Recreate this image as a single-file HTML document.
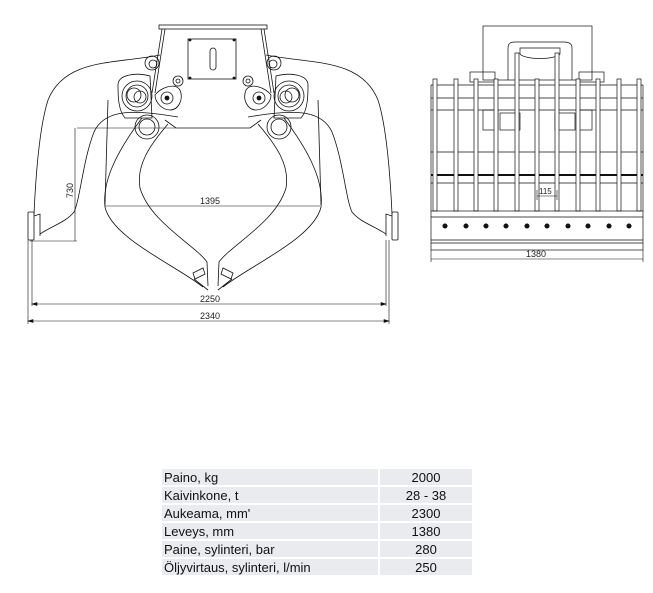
<!DOCTYPE html>
<html><head><meta charset="utf-8"><style>
html,body{margin:0;padding:0;background:#fff;}
body{width:653px;height:593px;position:relative;overflow:hidden;font-family:"Liberation Sans",sans-serif;}
svg{position:absolute;left:0;top:0;}
.tbl{position:absolute;left:162px;top:469px;width:310px;}
.row{display:flex;height:16px;margin-bottom:2px;font-size:13px;line-height:17px;color:#111;}
.row div{background:#e9ebef;}
.c1{width:214px;margin-right:2px;padding-left:2px;}
.c2{flex:1;text-align:center;}
</style></head><body>
<svg width="653" height="593" viewBox="0 0 653 593" fill="none" stroke="#111" stroke-width="0.8">
<g id="half">
  <path d="M160,55 C115,64 65,58 48,100 C40,125 36,170 34,214"/>
  <path d="M178,117 C135,110 105,108 94,132 C83,160 80,200 74,212 C66,222 52,226 40,234"/>
  <rect x="28" y="212" width="6" height="28" rx="1"/>
  <path d="M34,216 L40,214 L40,236"/>
  <path d="M142,118 C118,150 102,180 105,207 C112,238 175,265 203,287"/>
  <path d="M168,124 C150,145 136,165 140,188 C150,222 195,245 207,262 L208,286"/>
  <path d="M193,273 L203,268 L205,274 L195,279 Z M194,279 L208,290"/>
  <path d="M108,100 L105,205" />
  <circle cx="137" cy="96" r="15"/><circle cx="137" cy="96" r="11"/><circle cx="134" cy="95" r="7"/><circle cx="140" cy="97" r="6"/>
  <circle cx="147" cy="127" r="12"/><circle cx="147" cy="127" r="8"/>
  <circle cx="152" cy="63" r="7"/><circle cx="153" cy="64" r="4"/>
  <path d="M155,95 C160,88 175,82 180,90 C184,100 178,110 170,110 C162,110 155,102 155,95 Z"/>
  <circle cx="167" cy="98" r="6"/><circle cx="167" cy="98" r="2" fill="#111"/>
  <circle cx="178" cy="81" r="5"/><circle cx="178" cy="81" r="2"/>
  <path d="M118,85 C118,75 135,72 150,76 L152,118 L125,118 C118,110 118,95 118,85 Z"/>
  <path d="M165,120 L176,128"/>
  <path d="M162,29 L152,93"/><path d="M165,29 L155,93"/>
</g>
<use href="#half" transform="translate(426,0) scale(-1,1)"/>
<rect x="159" y="25" width="108" height="4"/>
<rect x="188" y="39" width="48" height="40"/>
<rect x="210" y="48" width="6" height="22" rx="3"/>
<circle cx="190" cy="40" r="1" fill="#111"/><circle cx="234" cy="40" r="1" fill="#111"/><circle cx="190" cy="78" r="1" fill="#111"/><circle cx="234" cy="78" r="1" fill="#111"/>
<path d="M176,128 L250,128"/>
<g stroke-width="0.6">
<path d="M77,128 L176,128 M75,128 L75,241 M30,241 L77,241"/>
<path d="M105,206 L320,206"/>
<path d="M32,240 L32,306 M386,240 L386,306 M32,304 L386,304"/>
<path d="M28,240 L28,324 M389,240 L389,324 M28,321 L389,321"/>
<path d="M32,304 l5,-1.5 v3z M386,304 l-5,-1.5 v3z M28,321 l5,-1.5 v3z M389,321 l-5,-1.5 v3z" fill="#111"/>
</g>
<g fill="#222" stroke="none" font-family="Liberation Sans,sans-serif" font-size="9">
<text x="200" y="204">1395</text>
<text x="200" y="302">2250</text>
<text x="200" y="319">2340</text>
<text x="0" y="0" transform="translate(73,198) rotate(-90)">730</text>
<text x="526" y="257">1380</text>
<text x="539" y="194" font-size="8">115</text>
</g>
<g stroke-width="0.7">
<rect x="483" y="26" width="109" height="54"/>
<path d="M508,80 L508,48 C508,43 511,42 515,42 L564,42 C568,42 572,43 572,48 L572,80"/>
<path d="M520,54 C525,60 555,60 560,54 L560,48 L520,48 Z"/>
<path d="M431,85 L643,85 M431,98 L643,98 M431,110 L643,110 M431,152 L643,152 M431,183 L643,183"/>
<path d="M431,175 L643,175" stroke-width="2"/>
<path d="M431,85 L431,211 M643,85 L643,211"/>
<rect x="470" y="72" width="25" height="10"/><rect x="579" y="72" width="25" height="10"/>
<rect x="483" y="110" width="15" height="20"/><rect x="577" y="110" width="15" height="20"/>
<rect x="500" y="113" width="20" height="17"/><rect x="555" y="113" width="20" height="17"/>
<g fill="#fff">
<rect x="433" y="79" width="4" height="132"/><rect x="454" y="79" width="4" height="132"/><rect x="474" y="79" width="4" height="132"/><rect x="494" y="79" width="4" height="132"/><rect x="515" y="53" width="4" height="158"/><rect x="535" y="79" width="4" height="132"/><rect x="555" y="53" width="4" height="158"/><rect x="576" y="79" width="4" height="132"/><rect x="596" y="79" width="4" height="132"/><rect x="617" y="79" width="4" height="132"/><rect x="637" y="79" width="4" height="132"/>
</g>
<rect x="431" y="211" width="212" height="39"/>
<path d="M431,217 L643,217 M431,240 L643,240 M431,243 L643,243"/>
<g fill="#111">
<circle cx="445" cy="226" r="2.2"/><circle cx="466" cy="226" r="2.2"/><circle cx="486" cy="226" r="2.2"/><circle cx="506" cy="226" r="2.2"/><circle cx="527" cy="226" r="2.2"/><circle cx="547" cy="226" r="2.2"/><circle cx="568" cy="226" r="2.2"/><circle cx="588" cy="226" r="2.2"/><circle cx="609" cy="226" r="2.2"/><circle cx="629" cy="226" r="2.2"/>
</g>
<path d="M431,250 L431,262 M643,250 L643,262 M431,259 L643,259" stroke-width="0.6"/>
<path d="M537,196 L557,196 M537,190 L537,200 M557,190 L557,200" stroke-width="0.6"/>
</g>
</svg>
<div class="tbl">
<div class="row"><div class="c1">Paino, kg</div><div class="c2">2000</div></div>
<div class="row"><div class="c1">Kaivinkone, t</div><div class="c2">28 - 38</div></div>
<div class="row"><div class="c1">Aukeama, mm'</div><div class="c2">2300</div></div>
<div class="row"><div class="c1">Leveys, mm</div><div class="c2">1380</div></div>
<div class="row"><div class="c1">Paine, sylinteri, bar</div><div class="c2">280</div></div>
<div class="row"><div class="c1">Öljyvirtaus, sylinteri, l/min</div><div class="c2">250</div></div>
</div>
</body></html>
